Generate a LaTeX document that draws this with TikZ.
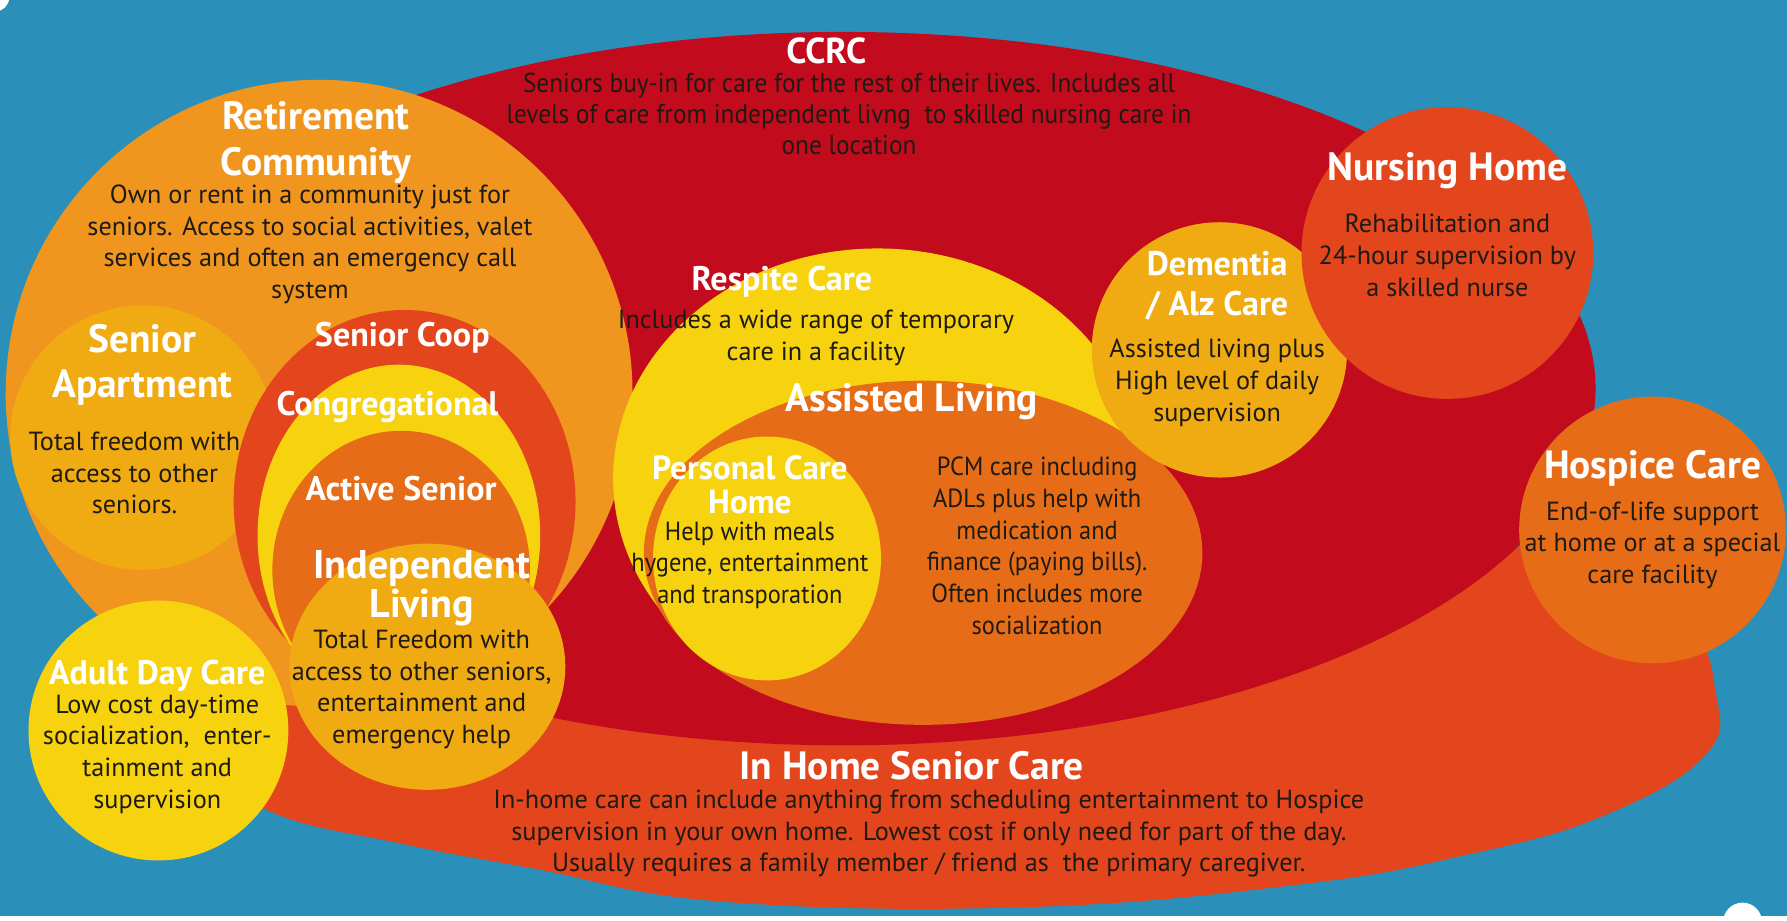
\documentclass[tikz,border=0pt]{standalone}
\usepackage{fontspec}
\setmainfont{PT Sans}
\newfontfamily\cond{PT Sans}[FakeStretch=0.93]
\definecolor{bgblue}{HTML}{2A90BA}
\definecolor{ccrcred}{HTML}{C30B1E}
\definecolor{redor}{HTML}{E3451D}
\definecolor{lightor}{HTML}{F0961F}
\definecolor{gold}{HTML}{F0AA12}
\definecolor{yel}{HTML}{F7D30F}
\definecolor{midor}{HTML}{E76C17}
\definecolor{ink}{HTML}{1E1A14}
\tikzset{
  ttl/.style={text=white, align=center, inner sep=0pt, font=\bfseries\fontsize{19.7}{22.8}\selectfont},
  ttlsm/.style={text=white, align=center, inner sep=0pt, font=\bfseries\fontsize{17}{20}\selectfont},
  body/.style={text=ink, align=center, inner sep=0pt, font=\fontsize{13.1}{15.8}\selectfont},
  cbody/.style={text=ink, align=center, inner sep=0pt, font=\cond\fontsize{13.1}{15.8}\selectfont},
}
\begin{document}
\begin{tikzpicture}[x=0.02cm, y=-0.02cm]
\useasboundingbox (0,0) rectangle (1568,808);
% background
\fill[bgblue] (0,0) rectangle (1568,808);
\fill[white] (0,804) rectangle (1568,808);
\fill[white] (1529,809) circle [radius=17];
\fill[white] (-4,-2) circle [radius=12];
% shapes
\fill[redor] plot[smooth cycle, tension=0.7] coordinates {
  (1506,611) (1494,665) (1404,717) (1287,750) (1141,776) (900,796)
  (632,791) (468,762) (351,740) (237,712) (170,660) (170,560)
  (300,470) (600,420) (1000,420) (1330,480) (1470,540)};
\fill[ccrcred] (740,341) ellipse [x radius=660, y radius=313];
\fill[lightor] (280,345) circle [radius=275];
\fill[gold] (125,384) circle [radius=116];
\fill[redor] (355,440) ellipse [x radius=150, y radius=168];
\fill[yel] (350,470) ellipse [x radius=124, y radius=150];
\fill[midor] (352,500) ellipse [x radius=113, y radius=122];
\fill[gold] (375,585) ellipse [x radius=121, y radius=108];
\fill[yel] (139,641) circle [radius=114];
\fill[yel] (770,420) ellipse [x radius=232, y radius=202];
\fill[midor] (810,485) ellipse [x radius=245, y radius=151];
\fill[yel] (673,490) ellipse [x radius=100, y radius=107];
\fill[gold] (1070,307) circle [radius=112];
\fill[redor] (1270,222) circle [radius=128];
\fill[midor] (1450,465) circle [radius=117];
% texts
\node[ttl, font=\bfseries\fontsize{18}{20}\selectfont] (ccrc) at (725,45) {CCRC};
\node[cbody, font=\cond\fontsize{13.6}{15.6}\selectfont] (ccrcb) at (745,100) {Seniors buy-in for care for the rest of their lives. Includes all\\levels of care from independent livng\ \ to skilled nursing care in\\one location};
\node[ttl] (ret) at (277,125) {Retirement\\Community};
\node[body] (retb) at (272,214.5) {Own or rent in a community just for\\seniors. Access to social activities, valet\\services and often an emergency call\\system};
\node[ttl] (apt) at (125,320) {Senior\\Apartment};
\node[body] (aptb) at (118,415) {Total freedom with\\access to other\\seniors.};
\node[ttlsm] (coop) at (353,296) {Senior Coop};
\node[ttlsm] (cong) at (340,357) {Congregational};
\node[ttlsm] (act) at (352,429) {Active Senior};
\node[ttl, font=\bfseries\fontsize{20}{15.5}\selectfont] (ind) at (370,516) {Independent\\Living};
\node[body] (indb) at (370,605) {Total Freedom with\\access to other seniors,\\entertainment and\\emergency help};
\node[ttlsm] (adc) at (138,593) {Adult Day Care};
\node[body] (adcb) at (138,661.5) {Low cost day-time\\socialization,\ \ enter-\\tainment and\\supervision};
\node[ttlsm] (resp) at (686,247) {Respite Care};
\node[body] (respb) at (716,296.5) {Includes a wide range of temporary\\care in a facility};
\node[ttl] (asl) at (800,352) {Assisted Living};
\node[ttlsm, font=\bfseries\fontsize{16.7}{17}\selectfont] (pch) at (658,425) {Personal Care\\Home};
\node[cbody] (pchb) at (658,496) {Help with meals\\hygene, entertainment\\and transporation};
\node[cbody] (aslb) at (910,479) {PCM care including\\ADLs plus help with\\medication and\\finance (paying bills).\\Often includes more\\socialization};
\node[ttlsm] (dem) at (1068,250.5) {Dementia\\/ Alz Care};
\node[body] (demb) at (1068,336) {Assisted living plus\\High level of daily\\supervision};
\node[ttl] (nh) at (1270,150) {Nursing Home};
\node[body] (nhb) at (1270,224) {Rehabilitation and\\24-hour supervision by\\a skilled nurse};
\node[ttl] (hos) at (1450,411) {Hospice Care};
\node[body] (hosb) at (1450,478.5) {End-of-life support\\at home or at a special\\care facility};
\node[ttl] (ihc) at (800,672) {In Home Senior Care};
\node[body] (ihcb) at (815,731.5) {In-home care can include anything from scheduling entertainment to Hospice\\supervision in your own home. Lowest cost if only need for part of the day.\\Usually requires a family member / friend as\ \ the primary caregiver.};
\end{tikzpicture}
\end{document}
